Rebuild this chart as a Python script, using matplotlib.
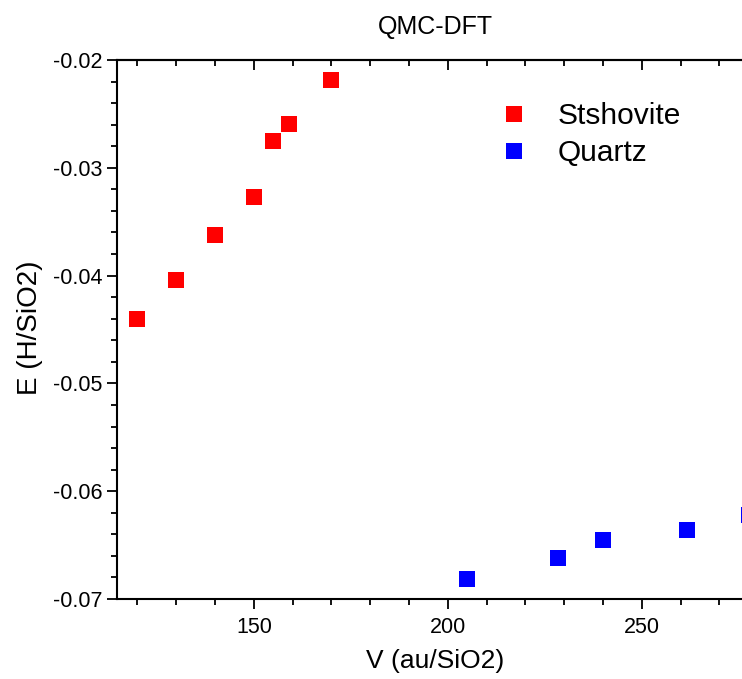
import matplotlib
matplotlib.use("Agg")
import matplotlib.pyplot as plt
from matplotlib.ticker import MultipleLocator

plt.rcParams['font.family'] = ['Liberation Sans', 'DejaVu Sans']

# Data
stishovite_v = [120, 130, 140, 150, 155, 159, 170]
stishovite_e = [-0.0440, -0.0404, -0.0362, -0.0327, -0.0275, -0.0259, -0.0219]
quartz_v = [205, 228.5, 240, 261.6, 277.7]
quartz_e = [-0.0681, -0.0662, -0.0645, -0.0636, -0.0622]
labels = ["Stshovite", "Quartz"]
title = "QMC-DFT"
xlabel = "V (au/SiO2)"
ylabel = "E (H/SiO2)"

W, H = 742, 679
fig = plt.figure(figsize=(W / 100, H / 100), dpi=100)
x0, x1 = 114.8, 290
px_per_unit = 3.88
left_px, top_px, bottom_px = 117.3, 60, 599
ax = fig.add_axes([left_px / W, 1 - bottom_px / H,
                   (x1 - x0) * px_per_unit / W, (bottom_px - top_px) / H])

ax.plot(stishovite_v, stishovite_e, 's', color='#ff0000', markersize=11,
        markeredgewidth=0, label=labels[0], clip_on=False)
ax.plot(quartz_v, quartz_e, 's', color='#0000ff', markersize=11,
        markeredgewidth=0, label=labels[1], clip_on=False)

ax.set_xlim(x0, x1)
ax.set_ylim(-0.07, -0.02)
ax.xaxis.set_major_locator(MultipleLocator(50))
ax.xaxis.set_minor_locator(MultipleLocator(10))
ax.yaxis.set_major_locator(MultipleLocator(0.01))
ax.yaxis.set_minor_locator(MultipleLocator(0.002))
ax.yaxis.set_major_formatter(matplotlib.ticker.FuncFormatter(lambda v, p: f"{v:g}"))

for s in ax.spines.values():
    s.set_linewidth(1.5)

ax.tick_params(axis='both', which='major', length=7, width=1.3, labelsize=15.5, direction='out')
ax.tick_params(axis='both', which='minor', length=4, width=1.3, direction='out')
ax.tick_params(axis='x', which='both', pad=6)
ax.tick_params(axis='y', which='both', pad=4)
# top ticks inward via secondary axis
sec = ax.secondary_xaxis('top')
sec.xaxis.set_major_locator(MultipleLocator(50))
sec.xaxis.set_minor_locator(MultipleLocator(10))
sec.tick_params(which='major', direction='in', length=7, width=1.3, labeltop=False)
sec.tick_params(which='minor', direction='in', length=4, width=1.3)
sec.spines['top'].set_linewidth(1.5)
ax.tick_params(axis='x', which='both', top=False)

fig.text(435 / W, 1 - 27 / H, title, ha='center', va='center', fontsize=18)
fig.text(435 / W, 1 - 661 / H, xlabel, ha='center', va='center', fontsize=19)
fig.text(30 / W, 1 - 328 / H, ylabel, ha='center', va='center', fontsize=20, rotation=90)

ax.legend(loc='upper left', bbox_to_anchor=(499 / W, 1 - 102 / H),
          bbox_transform=fig.transFigure, frameon=False, fontsize=21.5,
          handlelength=1.0, handletextpad=0.95, labelspacing=0.3,
          borderpad=0, borderaxespad=0)

fig.savefig("out.png", dpi=100)
